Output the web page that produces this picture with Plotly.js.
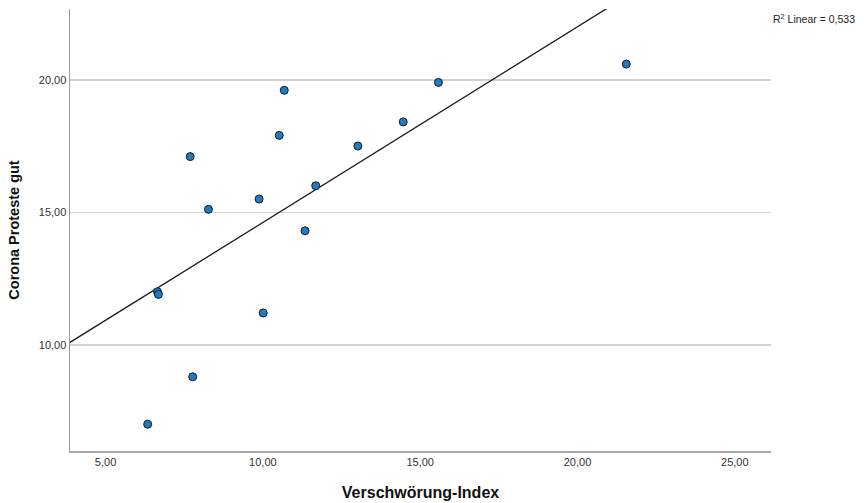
<!DOCTYPE html>
<html>
<head>
<meta charset="utf-8">
<script src="https://cdn.plot.ly/plotly-3.0.1.min.js"></script>
<style>html,body{margin:0;padding:0;background:#fff;}#chart{width:865px;height:503px;}</style>
</head>
<body>
<div id="chart"></div>
<script>
// Data
var verschwoerungIndex = [7.69, 8.27, 9.88, 10.52, 10.68, 6.65, 6.68, 10.01, 7.77, 6.34, 11.68, 13.02, 14.46, 15.58, 11.34, 21.55];
var coronaProtesteGut  = [17.11, 15.12, 15.51, 17.91, 19.61, 12.01, 11.91, 11.21, 8.80, 7.01, 16.01, 17.51, 18.42, 19.91, 14.31, 20.60];
var xTicks = [5, 10, 15, 20, 25];
var yTicks = [10, 15, 20];
var xRange = [3.87, 26.15];
var yRange = [6.0, 22.68];

// Least-squares fit from the data
var n = verschwoerungIndex.length;
var mx = verschwoerungIndex.reduce(function(a,b){return a+b;},0)/n;
var my = coronaProtesteGut.reduce(function(a,b){return a+b;},0)/n;
var sxy = 0, sxx = 0, syy = 0;
for (var i = 0; i < n; i++) {
  var dx = verschwoerungIndex[i]-mx, dy = coronaProtesteGut[i]-my;
  sxy += dx*dy; sxx += dx*dx; syy += dy*dy;
}
var slope = sxy/sxx, intercept = my - slope*mx;
var r2 = (sxy*sxy)/(sxx*syy);
var fitX = [xRange[0], xRange[1]];
var fitY = fitX.map(function(x){return intercept + slope*x;});

var traces = [
  {x: fitX, y: fitY, mode: 'lines', type: 'scatter', line: {color: '#1a1a1a', width: 1.3}, hoverinfo: 'skip', showlegend: false},
  {x: verschwoerungIndex, y: coronaProtesteGut, mode: 'markers', type: 'scatter',
   marker: {size: 8, color: '#1f7bc4', line: {color: '#1a1a1a', width: 1}}, showlegend: false}
];

var layout = {
  width: 865, height: 503,
  margin: {l: 70, r: 94, t: 9, b: 52},
  paper_bgcolor: '#fff', plot_bgcolor: '#fff',
  separators: ',.',
  font: {family: 'Liberation Sans, Arial, sans-serif', color: '#333', size: 11},
  showlegend: false,
  xaxis: {
    range: xRange, tickvals: xTicks, tickformat: '.2f',
    showgrid: false, zeroline: false,
    showline: true, linecolor: '#a8a8a8', linewidth: 2,
    ticks: '', ticklen: 0, tickfont: {size: 11, color: '#333'},
    title: {text: 'Verschwörung-Index', font: {size: 16, color: '#111', family: 'Liberation Sans, Arial, sans-serif', weight: 'bold'}, standoff: 20}
  },
  yaxis: {
    range: yRange, tickvals: yTicks, tickformat: '.2f',
    showgrid: true, gridcolor: '#d2d2d2', gridwidth: 1.5, zeroline: false,
    showline: true, linecolor: '#9a9a9a', linewidth: 1.5,
    ticks: '', tickfont: {size: 11, color: '#333'},
    title: {text: 'Corona Proteste gut', font: {size: 14.5, color: '#111', family: 'Liberation Sans, Arial, sans-serif', weight: 'bold'}, standoff: 15}
  },
  annotations: [{
    xref: 'paper', yref: 'paper', x: 1.0, y: 0.998, xanchor: 'left', yanchor: 'top',
    text: 'R<sup>2</sup> Linear = ' + r2.toFixed(3).replace('.', ','),
    showarrow: false, font: {size: 10.5, color: '#222'}
  }]
};

Plotly.newPlot('chart', traces, layout, {displayModeBar: false, staticPlot: true});
</script>
</body>
</html>
